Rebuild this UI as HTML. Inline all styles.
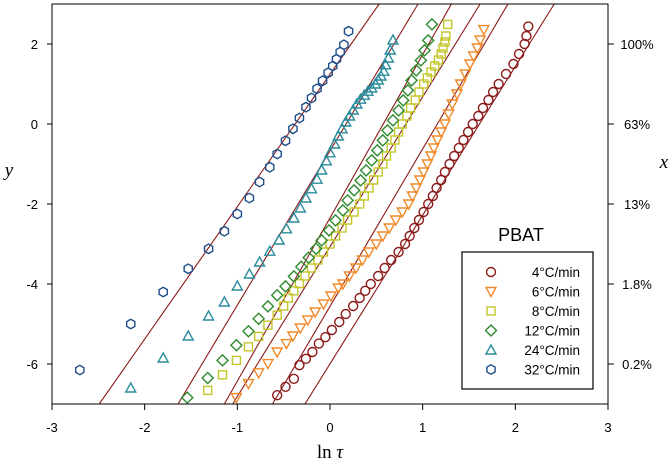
<!DOCTYPE html>
<html><head><meta charset="utf-8"><style>
html,body{margin:0;padding:0;background:#fff;}
svg{display:block;font-family:"Liberation Sans",Arial,sans-serif;}
</style></head><body>
<svg id="chart" width="672" height="463" viewBox="0 0 672 463"></svg>
<script>
const xTicks=[-3,-2,-1,0,1,2,3];
const yTicks=[-6,-4,-2,0,2];
const rightTickLabels=["0.2%","1.8%","13%","63%","100%"];
const seriesNames=["4°C/min","6°C/min","8°C/min","12°C/min","24°C/min","32°C/min"];
const seriesColors=["#8B1A1A","#F08A2A","#C3C62A","#2E8B2E","#2A8C9C","#1F4E8C"];
const seriesShapes=["circle","tridown","square","diamond","triup","hex"];
const s4=[[-0.57,-6.78],[-0.48,-6.57],[-0.39,-6.37],[-0.33,-6.03],[-0.26,-5.87],[-0.19,-5.70],[-0.12,-5.49],[-0.05,-5.33],[0.02,-5.15],[0.10,-4.95],[0.17,-4.75],[0.25,-4.55],[0.32,-4.35],[0.38,-4.17],[0.44,-4.0],[0.52,-3.8],[0.59,-3.6],[0.66,-3.4],[0.74,-3.2],[0.81,-3.0],[0.86,-2.8],[0.91,-2.6],[0.96,-2.4],[1.01,-2.2],[1.06,-2.0],[1.11,-1.8],[1.15,-1.6],[1.20,-1.4],[1.24,-1.2],[1.29,-1.0],[1.34,-0.8],[1.39,-0.6],[1.44,-0.4],[1.49,-0.2],[1.54,0],[1.60,0.2],[1.65,0.4],[1.71,0.6],[1.76,0.8],[1.82,1.0],[1.90,1.25],[1.98,1.5],[2.04,1.75],[2.10,2.0],[2.12,2.2],[2.14,2.44]];
const s6=[[-1.01,-6.84],[-0.88,-6.49],[-0.77,-6.22],[-0.67,-5.99],[-0.57,-5.70],[-0.47,-5.49],[-0.40,-5.3],[-0.32,-5.1],[-0.24,-4.9],[-0.16,-4.7],[-0.07,-4.5],[0.01,-4.3],[0.09,-4.1],[0.14,-4.0],[0.21,-3.8],[0.28,-3.6],[0.35,-3.4],[0.42,-3.2],[0.50,-3.0],[0.57,-2.8],[0.64,-2.6],[0.71,-2.4],[0.78,-2.2],[0.85,-2.0],[0.89,-1.8],[0.93,-1.6],[0.97,-1.4],[1.01,-1.2],[1.05,-1.0],[1.09,-0.8],[1.12,-0.6],[1.16,-0.4],[1.20,-0.2],[1.24,0],[1.28,0.25],[1.32,0.5],[1.37,0.75],[1.41,1.0],[1.46,1.25],[1.51,1.5],[1.55,1.7],[1.59,1.9],[1.62,2.1],[1.66,2.36]];
const s8=[[-1.32,-6.66],[-1.16,-6.27],[-1.01,-5.91],[-0.88,-5.57],[-0.77,-5.31],[-0.67,-5.03],[-0.57,-4.78],[-0.50,-4.55],[-0.45,-4.35],[-0.39,-4.17],[-0.33,-3.99],[-0.27,-3.80],[-0.20,-3.60],[-0.13,-3.40],[-0.07,-3.20],[0.0,-3.0],[0.06,-2.8],[0.13,-2.6],[0.19,-2.4],[0.26,-2.2],[0.32,-2.0],[0.37,-1.8],[0.42,-1.6],[0.47,-1.4],[0.52,-1.2],[0.57,-1.0],[0.61,-0.8],[0.66,-0.6],[0.70,-0.4],[0.74,-0.2],[0.78,0],[0.83,0.2],[0.87,0.4],[0.92,0.6],[0.96,0.8],[1.01,1.0],[1.05,1.15],[1.09,1.3],[1.13,1.45],[1.17,1.6],[1.20,1.75],[1.22,1.9],[1.24,2.05],[1.25,2.2],[1.27,2.49]];
const s12=[[-1.54,-6.84],[-1.32,-6.35],[-1.16,-5.91],[-1.01,-5.53],[-0.88,-5.18],[-0.77,-4.87],[-0.67,-4.56],[-0.57,-4.28],[-0.48,-4.06],[-0.39,-3.81],[-0.31,-3.57],[-0.23,-3.34],[-0.15,-3.12],[-0.09,-2.91],[-0.01,-2.66],[0.06,-2.41],[0.14,-2.16],[0.19,-1.91],[0.26,-1.66],[0.33,-1.41],[0.39,-1.16],[0.45,-0.91],[0.51,-0.66],[0.57,-0.41],[0.62,-0.16],[0.68,0.09],[0.74,0.34],[0.79,0.59],[0.84,0.84],[0.88,1.09],[0.93,1.34],[0.98,1.59],[1.02,1.84],[1.06,2.09],[1.10,2.49]];
const s24=[[-2.15,-6.6],[-1.80,-5.85],[-1.53,-5.3],[-1.31,-4.8],[-1.14,-4.45],[-1.0,-4.05],[-0.87,-3.75],[-0.76,-3.45],[-0.65,-3.18],[-0.55,-2.9],[-0.47,-2.62],[-0.39,-2.35],[-0.32,-2.1],[-0.26,-1.85],[-0.2,-1.62],[-0.14,-1.38],[-0.09,-1.15],[-0.04,-0.92],[0.0,-0.72],[0.05,-0.5],[0.09,-0.3],[0.13,-0.12],[0.17,0.05],[0.21,0.2],[0.25,0.35],[0.29,0.5],[0.33,0.62],[0.37,0.72],[0.41,0.82],[0.45,0.9],[0.49,1.0],[0.52,1.1],[0.55,1.2],[0.58,1.32],[0.6,1.48],[0.63,1.65],[0.65,1.85],[0.68,2.1]];
const s32=[[-2.70,-6.15],[-2.15,-5.0],[-1.80,-4.2],[-1.53,-3.62],[-1.31,-3.12],[-1.14,-2.68],[-1.0,-2.25],[-0.87,-1.85],[-0.76,-1.45],[-0.65,-1.08],[-0.57,-0.75],[-0.48,-0.42],[-0.40,-0.12],[-0.33,0.15],[-0.26,0.42],[-0.2,0.65],[-0.14,0.88],[-0.08,1.08],[-0.02,1.28],[0.03,1.45],[0.07,1.62],[0.11,1.80],[0.15,1.98],[0.20,2.32]];
const seriesData=[s4,s6,s8,s12,s24,s32];
// fit lines: x at y=-7 and x at y=3
const fitBottomX=[-2.49,-1.64,-1.14,-1.05,-0.62,-0.27];
const fitTopX=[0.53,0.95,1.31,1.62,1.92,2.42];

const NS="http://www.w3.org/2000/svg";
const svg=document.getElementById('chart');
const L=52,R=608,T=4,B=404;
const xs=v=>L+(v+3)/6*(R-L);
const ys=v=>T+(3-v)/10*(B-T);
function mk(tag,attrs,parent){const e=document.createElementNS(NS,tag);for(const k in attrs)e.setAttribute(k,attrs[k]);(parent||svg).appendChild(e);return e;}

const clip=mk('clipPath',{id:'pc'});mk('rect',{x:L,y:T,width:R-L,height:B-T},clip);

const gl=mk('g',{'clip-path':'url(#pc)'});


fitBottomX.forEach((bx,i)=>{
  const ln=mk('line',{x1:xs(bx),y1:ys(-7),x2:xs(fitTopX[i]),y2:ys(3),stroke:'#8B1A1A','stroke-width':1.1},gl);
  
  
});

function marker(shape,cx,cy,color,parent){
  const r=4.5;let e;
  const st={fill:'none',stroke:color,'stroke-width':1.4};
  if(shape==='circle')e=mk('circle',Object.assign({cx,cy,r},st),parent);
  else if(shape==='square')e=mk('rect',Object.assign({x:cx-4,y:cy-4,width:8,height:8},st),parent);
  else{
    let pts;
    if(shape==='diamond')pts=[[0,-5.5],[5.5,0],[0,5.5],[-5.5,0]];
    else if(shape==='triup')pts=[[0,-5],[5,4],[-5,4]];
    else if(shape==='tridown')pts=[[0,5],[5,-4],[-5,-4]];
    else {pts=[];for(let k=0;k<6;k++){const a=Math.PI/6+k*Math.PI/3;pts.push([r*Math.cos(a)*1.05,r*Math.sin(a)*1.05]);}}
    e=mk('polygon',Object.assign({points:pts.map(p=>(cx+p[0])+','+(cy+p[1])).join(' ')},st),parent);
  }
  return e;
}

seriesData.forEach((data,si)=>{
  const g=mk('g',{'clip-path':'url(#pc)'});
  
  
  data.forEach(p=>{
    const m=marker(seriesShapes[si],xs(p[0]),ys(p[1]),seriesColors[si],g);
    
    
  });
});

const fr=mk('rect',{x:L,y:T,width:R-L,height:B-T,fill:'none',stroke:'#000','stroke-width':1});



xTicks.forEach(t=>{
  mk('line',{x1:xs(t),y1:B,x2:xs(t),y2:B+6,stroke:'#000'});
  const tx=mk('text',{x:xs(t),y:432,'text-anchor':'middle','font-size':13});
  tx.textContent=t;
  
  
});
yTicks.forEach((t,i)=>{
  mk('line',{x1:L-5,y1:ys(t),x2:L,y2:ys(t),stroke:'#000'});
  const tx=mk('text',{x:38,y:ys(t)+5,'text-anchor':'end','font-size':13});
  tx.textContent=t;
  
  
  mk('line',{x1:R,y1:ys(t),x2:R+6,y2:ys(t),stroke:'#000'});
  const rt=mk('text',{x:637,y:ys(t)+5,'text-anchor':'middle','font-size':13});
  rt.textContent=rightTickLabels[i];
  
  
});

const xt=mk('text',{x:330,y:458,'text-anchor':'middle','font-size':19,'font-family':'Liberation Serif,serif'});
xt.innerHTML='ln <tspan font-style="italic">τ</tspan>';


const yt=mk('text',{x:9,y:176,'text-anchor':'middle','font-size':19,'font-style':'italic','font-family':'Liberation Serif,serif'});
yt.textContent='y';


const rtt=mk('text',{x:664,y:168,'text-anchor':'middle','font-size':19,'font-style':'italic','font-family':'Liberation Serif,serif'});
rtt.textContent='x';



const lg=mk('g',{});


const lt=mk('text',{x:521,y:241,'text-anchor':'middle','font-size':18},lg);
lt.textContent='PBAT';


mk('rect',{x:462,y:252,width:131,height:137,fill:'#fff',stroke:'#000','stroke-width':1.2},lg);
seriesNames.forEach((n,i)=>{
  const y=272+i*19.5;
  const eg=mk('g',{},lg);
  
  
  marker(seriesShapes[i],491,y,seriesColors[i],eg);
  const t=mk('text',{x:580,y:y+5,'text-anchor':'end','font-size':13.5},eg);
  t.textContent=n;
});
</script>
</body></html>
